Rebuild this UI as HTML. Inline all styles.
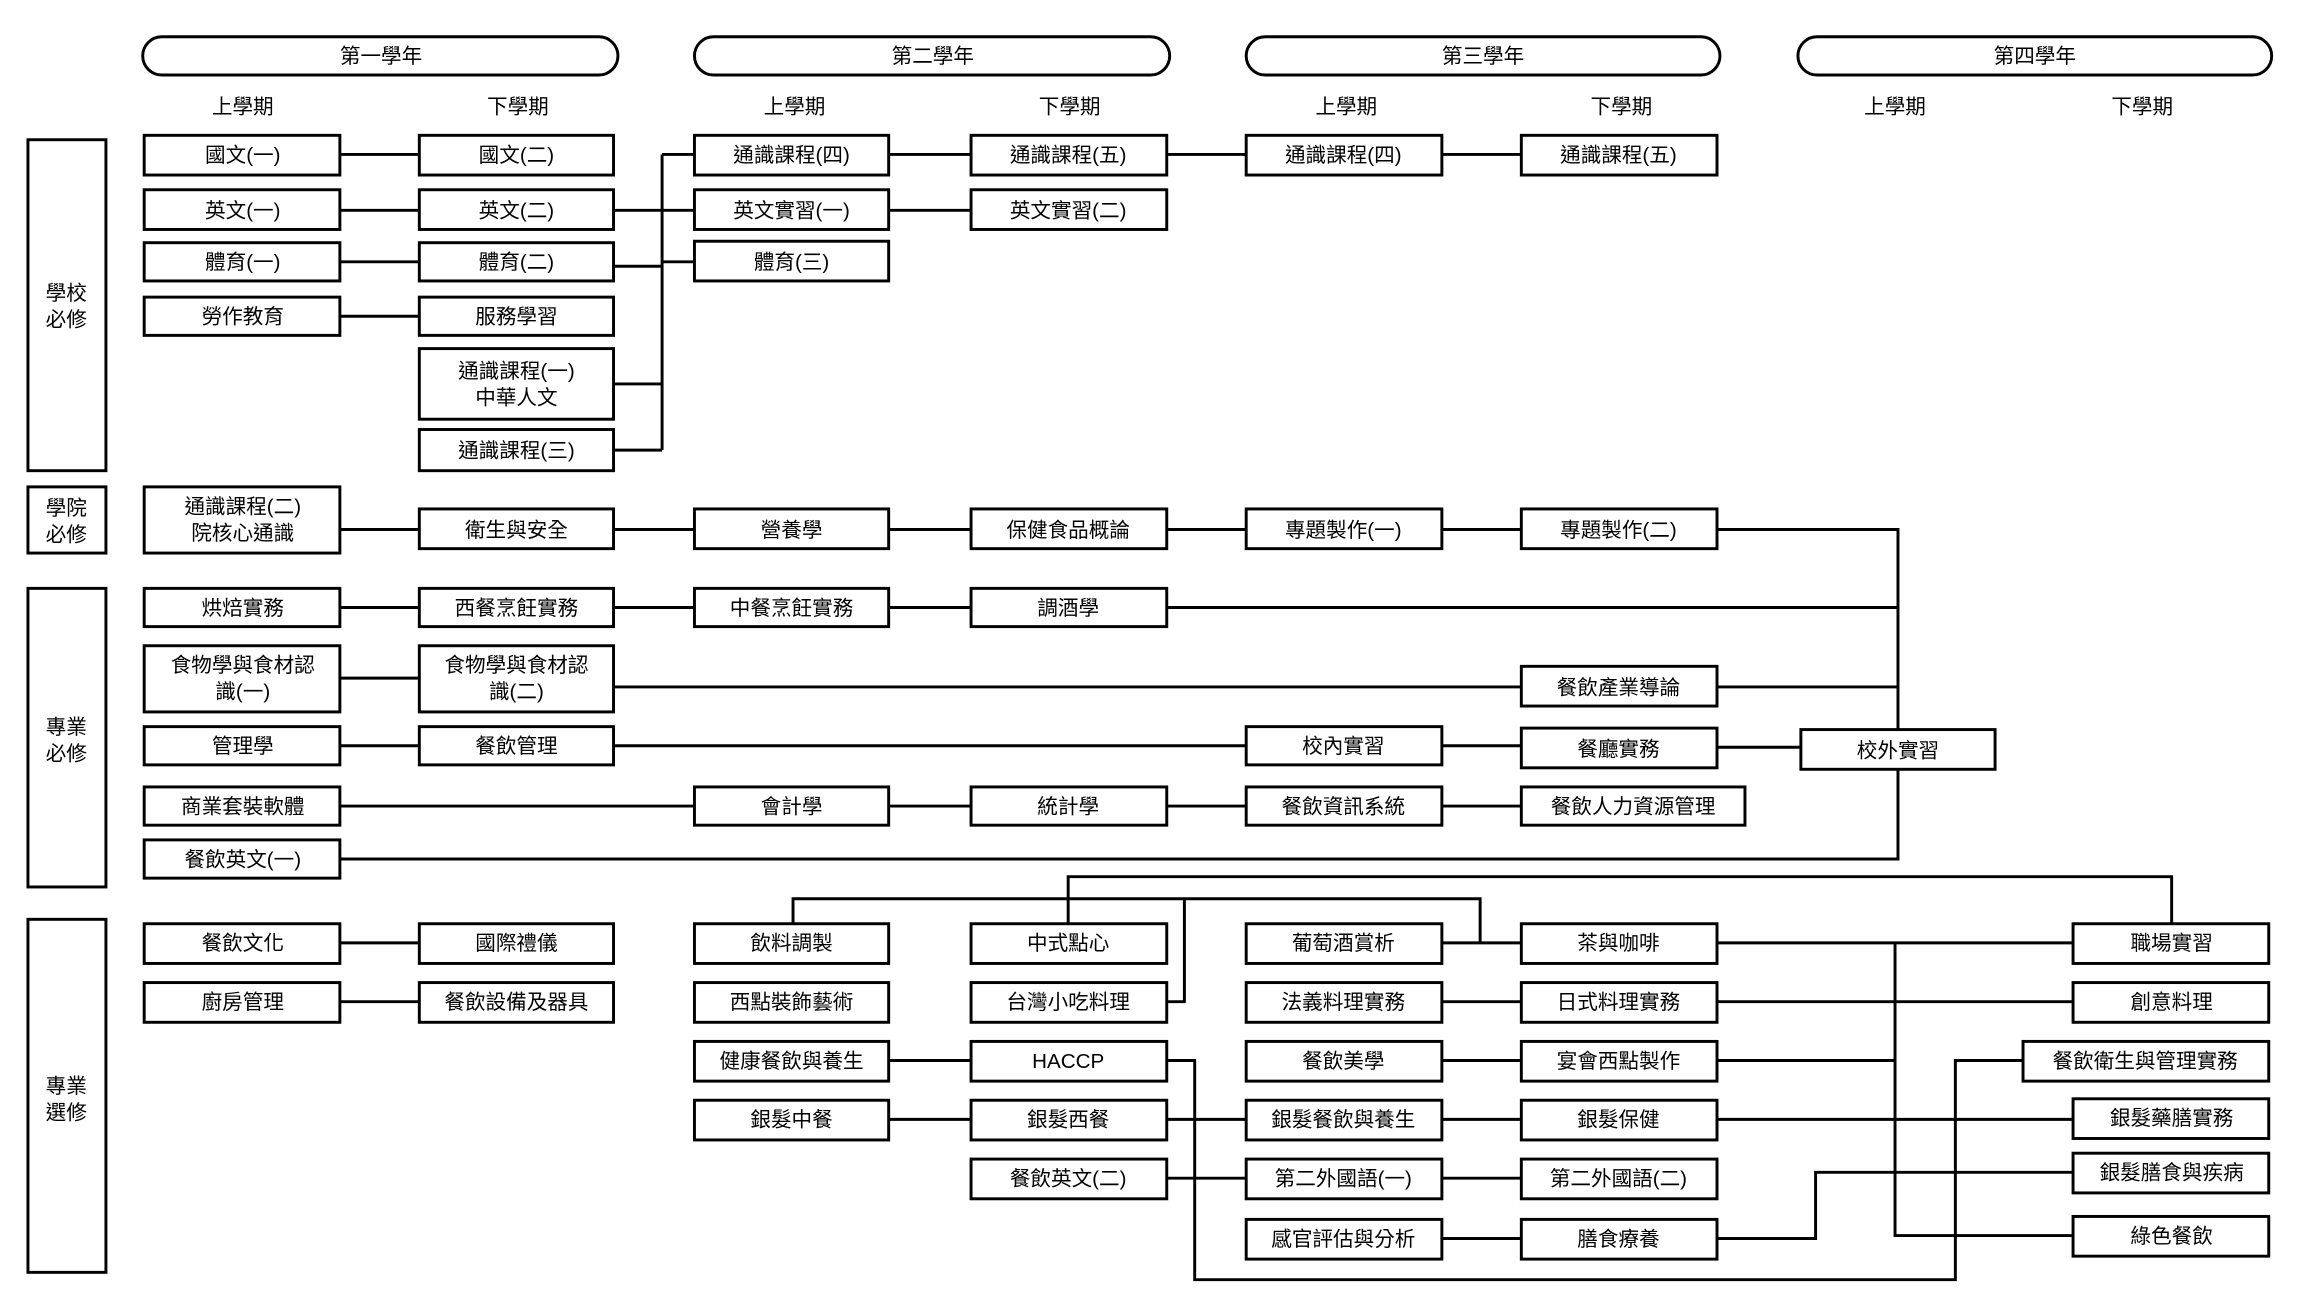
<!DOCTYPE html>
<html><head><meta charset="utf-8"><style>
html,body{margin:0;padding:0;background:#fff;}
svg{display:block;}
text{font-family:"Liberation Sans","Noto Sans CJK TC",sans-serif;font-size:14px;fill:#000;text-anchor:middle;}
.b{fill:#fff;stroke:#000;stroke-width:2;}
.l{fill:none;stroke:#000;stroke-width:2;}
</style></head><body>
<svg width="2307" height="1315" viewBox="0 0 1568 894" preserveAspectRatio="none" xmlns="http://www.w3.org/2000/svg">
<rect class="b" x="97" y="25" width="323" height="26" rx="13"/><text x="259" y="43">第一學年</text>
<rect class="b" x="472" y="25" width="323" height="26" rx="13"/><text x="634" y="43">第二學年</text>
<rect class="b" x="847" y="25" width="322" height="26" rx="13"/><text x="1008" y="43">第三學年</text>
<rect class="b" x="1222" y="25" width="322" height="26" rx="13"/><text x="1383" y="43">第四學年</text>
<text x="165" y="77">上學期</text><text x="352" y="77">下學期</text>
<text x="540" y="77">上學期</text><text x="727" y="77">下學期</text>
<text x="915" y="77">上學期</text><text x="1102" y="77">下學期</text>
<text x="1288" y="77">上學期</text><text x="1456" y="77">下學期</text>
<rect class="b" x="19" y="95" width="53" height="225"/><text x="45" y="204">學校</text><text x="45" y="222">必修</text>
<rect class="b" x="19" y="331" width="53" height="45"/><text x="45" y="350">學院</text><text x="45" y="368">必修</text>
<rect class="b" x="19" y="400" width="53" height="203"/><text x="45" y="499">專業</text><text x="45" y="517">必修</text>
<rect class="b" x="19" y="625" width="53" height="240"/><text x="45" y="743">專業</text><text x="45" y="761">選修</text>
<g class="l">
<path d="M231 105H285M231 143H472M231 178H285M231 215H285"/>
<path d="M450 105V306M450 105H472M417 181H450V178H472M417 261H450M417 306H450"/>
<path d="M604 105H660M604 143H660M793 105H847M980 105H1034"/>
<path d="M231 360H1034M1167 360H1290V496M1290 523V584H231"/>
<path d="M231 413H660M793 413H1290"/>
<path d="M231 461H285M417 467H1034M1167 467H1290"/>
<path d="M231 507H847M980 507H1034M1167 508H1224"/>
<path d="M231 548H472M604 548H660M793 548H847M980 548H1034"/>
<path d="M231 641H285M231 681H285"/>
<path d="M604 721H660M604 761H660M793 761H847M793 801H847"/>
<path d="M980 641H1034M980 681H1034M980 721H1034M980 761H1034M980 801H1034M980 842H1034"/>
<path d="M726 628V596H1476V628M539 628V611H1006V641M793 681H805V611"/>
<path d="M1167 641H1409M1288 641V840H1409M1167 681H1409M1167 721H1288M1167 761H1409M1167 842H1234V797H1409"/>
<path d="M793 721H812V870H1329V721H1375"/>
</g>
<rect class="b" x="98" y="92" width="133" height="27"/><text x="165" y="110">國文(一)</text>
<rect class="b" x="285" y="92" width="132" height="27"/><text x="351" y="110">國文(二)</text>
<rect class="b" x="98" y="129" width="133" height="27"/><text x="165" y="148">英文(一)</text>
<rect class="b" x="285" y="129" width="132" height="27"/><text x="351" y="148">英文(二)</text>
<rect class="b" x="98" y="165" width="133" height="26"/><text x="165" y="183">體育(一)</text>
<rect class="b" x="285" y="165" width="132" height="26"/><text x="351" y="183">體育(二)</text>
<rect class="b" x="98" y="202" width="133" height="26"/><text x="165" y="220">勞作教育</text>
<rect class="b" x="285" y="202" width="132" height="26"/><text x="351" y="220">服務學習</text>
<rect class="b" x="285" y="237" width="132" height="48"/><text x="351" y="257">通識課程(一)</text><text x="351" y="275">中華人文</text>
<rect class="b" x="285" y="292" width="132" height="28"/><text x="351" y="311">通識課程(三)</text>
<rect class="b" x="472" y="92" width="132" height="27"/><text x="538" y="110">通識課程(四)</text>
<rect class="b" x="472" y="129" width="132" height="27"/><text x="538" y="148">英文實習(一)</text>
<rect class="b" x="472" y="164" width="132" height="27"/><text x="538" y="183">體育(三)</text>
<rect class="b" x="660" y="92" width="133" height="27"/><text x="726" y="110">通識課程(五)</text>
<rect class="b" x="660" y="129" width="133" height="27"/><text x="726" y="148">英文實習(二)</text>
<rect class="b" x="847" y="92" width="133" height="27"/><text x="913" y="110">通識課程(四)</text>
<rect class="b" x="1034" y="92" width="133" height="27"/><text x="1100" y="110">通識課程(五)</text>
<rect class="b" x="98" y="331" width="133" height="45"/><text x="165" y="349">通識課程(二)</text><text x="165" y="367">院核心通識</text>
<rect class="b" x="285" y="346" width="132" height="27"/><text x="351" y="365">衛生與安全</text>
<rect class="b" x="472" y="346" width="132" height="27"/><text x="538" y="365">營養學</text>
<rect class="b" x="660" y="346" width="133" height="27"/><text x="726" y="365">保健食品概論</text>
<rect class="b" x="847" y="346" width="133" height="27"/><text x="913" y="365">專題製作(一)</text>
<rect class="b" x="1034" y="346" width="133" height="27"/><text x="1100" y="365">專題製作(二)</text>
<rect class="b" x="98" y="400" width="133" height="26"/><text x="165" y="418">烘焙實務</text>
<rect class="b" x="285" y="400" width="132" height="26"/><text x="351" y="418">西餐烹飪實務</text>
<rect class="b" x="472" y="400" width="132" height="26"/><text x="538" y="418">中餐烹飪實務</text>
<rect class="b" x="660" y="400" width="133" height="26"/><text x="726" y="418">調酒學</text>
<rect class="b" x="98" y="439" width="133" height="45"/><text x="165" y="457">食物學與食材認</text><text x="165" y="475">識(一)</text>
<rect class="b" x="285" y="439" width="132" height="45"/><text x="351" y="457">食物學與食材認</text><text x="351" y="475">識(二)</text>
<rect class="b" x="1034" y="453" width="133" height="27"/><text x="1100" y="472">餐飲產業導論</text>
<rect class="b" x="98" y="494" width="133" height="26"/><text x="165" y="512">管理學</text>
<rect class="b" x="285" y="494" width="132" height="26"/><text x="351" y="512">餐飲管理</text>
<rect class="b" x="847" y="494" width="133" height="26"/><text x="913" y="512">校內實習</text>
<rect class="b" x="1034" y="495" width="133" height="27"/><text x="1100" y="514">餐廳實務</text>
<rect class="b" x="1224" y="496" width="132" height="27"/><text x="1290" y="515">校外實習</text>
<rect class="b" x="98" y="535" width="133" height="26"/><text x="165" y="553">商業套裝軟體</text>
<rect class="b" x="472" y="535" width="132" height="26"/><text x="538" y="553">會計學</text>
<rect class="b" x="660" y="535" width="133" height="26"/><text x="726" y="553">統計學</text>
<rect class="b" x="847" y="535" width="133" height="26"/><text x="913" y="553">餐飲資訊系統</text>
<rect class="b" x="1034" y="535" width="152" height="26"/><text x="1110" y="553">餐飲人力資源管理</text>
<rect class="b" x="98" y="571" width="133" height="26"/><text x="165" y="589">餐飲英文(一)</text>
<rect class="b" x="98" y="628" width="133" height="27"/><text x="165" y="646">餐飲文化</text>
<rect class="b" x="285" y="628" width="132" height="27"/><text x="351" y="646">國際禮儀</text>
<rect class="b" x="98" y="668" width="133" height="27"/><text x="165" y="686">廚房管理</text>
<rect class="b" x="285" y="668" width="132" height="27"/><text x="351" y="686">餐飲設備及器具</text>
<rect class="b" x="472" y="628" width="132" height="27"/><text x="538" y="646">飲料調製</text>
<rect class="b" x="472" y="668" width="132" height="27"/><text x="538" y="686">西點裝飾藝術</text>
<rect class="b" x="472" y="708" width="132" height="27"/><text x="538" y="726">健康餐飲與養生</text>
<rect class="b" x="472" y="748" width="132" height="27"/><text x="538" y="766">銀髮中餐</text>
<rect class="b" x="660" y="628" width="133" height="27"/><text x="726" y="646">中式點心</text>
<rect class="b" x="660" y="668" width="133" height="27"/><text x="726" y="686">台灣小吃料理</text>
<rect class="b" x="660" y="708" width="133" height="27"/><text x="726" y="726">HACCP</text>
<rect class="b" x="660" y="748" width="133" height="27"/><text x="726" y="766">銀髮西餐</text>
<rect class="b" x="660" y="788" width="133" height="27"/><text x="726" y="806">餐飲英文(二)</text>
<rect class="b" x="847" y="628" width="133" height="27"/><text x="913" y="646">葡萄酒賞析</text>
<rect class="b" x="847" y="668" width="133" height="27"/><text x="913" y="686">法義料理實務</text>
<rect class="b" x="847" y="708" width="133" height="27"/><text x="913" y="726">餐飲美學</text>
<rect class="b" x="847" y="748" width="133" height="27"/><text x="913" y="766">銀髮餐飲與養生</text>
<rect class="b" x="847" y="788" width="133" height="27"/><text x="913" y="806">第二外國語(一)</text>
<rect class="b" x="847" y="829" width="133" height="27"/><text x="913" y="847">感官評估與分析</text>
<rect class="b" x="1034" y="628" width="133" height="27"/><text x="1100" y="646">茶與咖啡</text>
<rect class="b" x="1034" y="668" width="133" height="27"/><text x="1100" y="686">日式料理實務</text>
<rect class="b" x="1034" y="708" width="133" height="27"/><text x="1100" y="726">宴會西點製作</text>
<rect class="b" x="1034" y="748" width="133" height="27"/><text x="1100" y="766">銀髮保健</text>
<rect class="b" x="1034" y="788" width="133" height="27"/><text x="1100" y="806">第二外國語(二)</text>
<rect class="b" x="1034" y="829" width="133" height="27"/><text x="1100" y="847">膳食療養</text>
<rect class="b" x="1409" y="628" width="133" height="27"/><text x="1476" y="646">職場實習</text>
<rect class="b" x="1409" y="668" width="133" height="27"/><text x="1476" y="686">創意料理</text>
<rect class="b" x="1375" y="708" width="167" height="27"/><text x="1458" y="726">餐飲衛生與管理實務</text>
<rect class="b" x="1409" y="747" width="133" height="27"/><text x="1476" y="765">銀髮藥膳實務</text>
<rect class="b" x="1409" y="784" width="133" height="27"/><text x="1476" y="802">銀髮膳食與疾病</text>
<rect class="b" x="1409" y="827" width="133" height="27"/><text x="1476" y="845">綠色餐飲</text>
</svg>
</body></html>
